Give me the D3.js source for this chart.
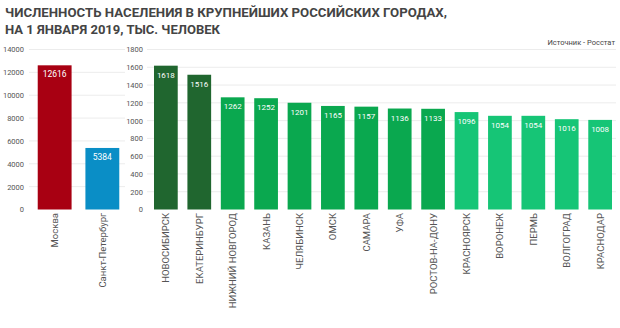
<!DOCTYPE html>
<html><head><meta charset="utf-8">
<script src="https://cdn.jsdelivr.net/npm/d3@7"></script>
<style>body{margin:0;background:#fff;}svg{display:block;font-family:Roboto,"Liberation Sans",sans-serif;}</style>
</head><body>
<script>
const bigCities = ["Москва", "Санкт-Петербург"];
const bigValues = [12616, 5384];
const bigColors = ["#a80012", "#0a8ec6"];
const bigTicks = [0, 2000, 4000, 6000, 8000, 10000, 12000, 14000];

const cities = ["НОВОСИБИРСК", "ЕКАТЕРИНБУРГ", "НИЖНИЙ НОВГОРОД", "КАЗАНЬ", "ЧЕЛЯБИНСК", "ОМСК", "САМАРА", "УФА", "РОСТОВ-НА-ДОНУ", "КРАСНОЯРСК", "ВОРОНЕЖ", "ПЕРМЬ", "ВОЛГОГРАД", "КРАСНОДАР"];
const values = [1618, 1516, 1262, 1252, 1201, 1165, 1157, 1136, 1133, 1096, 1054, 1054, 1016, 1008];
const groups = [0, 0, 1, 1, 1, 1, 1, 1, 1, 2, 2, 2, 2, 2];
const groupColors = ["#20662f", "#0aa84f", "#16c576"];
const ticks = [0, 200, 400, 600, 800, 1000, 1200, 1400, 1600, 1800];

const titleLines = ["ЧИСЛЕННОСТЬ НАСЕЛЕНИЯ В КРУПНЕЙШИХ РОССИЙСКИХ ГОРОДАХ,", "НА 1 ЯНВАРЯ 2019, ТЫС. ЧЕЛОВЕК"];
const source = "Источник - Росстат";

const W = 620, H = 328;
const svg = d3.select("body").append("svg").attr("width", W).attr("height", H);

svg.selectAll("text.title").data(titleLines).join("text")
  .attr("x", 5).attr("y", (d, i) => 17 + i * 16.5)
  .attr("font-size", 13).attr("font-weight", "bold").attr("fill", "#444")
  .attr("textLength", (d, i) => i === 0 ? 442 : 215).attr("lengthAdjust", "spacingAndGlyphs")
  .text(d => d);

svg.append("text").attr("x", 615).attr("y", 45).attr("text-anchor", "end")
  .attr("font-size", 7.5).attr("fill", "#444").text(source);

const y0 = 209.5, yTop = 49.5;

function panel(names, vals, colors, tickVals, maxV, xr, axisX, labelSize) {
  const x = d3.scaleBand().domain(names).range(xr).paddingInner(0.29).paddingOuter(0.12);
  const y = d3.scaleLinear().domain([0, maxV]).range([y0, yTop]);
  const g = svg.append("g");
  g.selectAll("line.grid").data(tickVals.slice(1)).join("line")
    .attr("x1", xr[0] - 3).attr("x2", xr[1]).attr("y1", d => y(d)).attr("y2", d => y(d))
    .attr("stroke", "#ececec").attr("stroke-width", 1);
  const ax = d3.axisLeft(y).tickValues(tickVals).tickSize(0).tickPadding(0).tickFormat(d3.format("d"));
  const axg = g.append("g").attr("transform", `translate(${axisX},0)`).call(ax);
  axg.select(".domain").remove();
  axg.selectAll("text").attr("font-size", 7.5).attr("fill", "#555").attr("font-family", "Roboto, sans-serif");
  g.selectAll("rect").data(vals).join("rect")
    .attr("x", (d, i) => x(names[i])).attr("width", x.bandwidth())
    .attr("y", d => y(d)).attr("height", d => y0 - y(d))
    .attr("fill", (d, i) => colors[i]);
  g.selectAll("text.val").data(vals).join("text").attr("class", "val")
    .attr("x", (d, i) => x(names[i]) + x.bandwidth() / 2).attr("y", d => y(d) + 12)
    .attr("text-anchor", "middle").attr("font-size", labelSize).attr("fill", "#fff")
    .text(d => d);
  g.selectAll("text.cat").data(names).join("text").attr("class", "cat")
    .attr("transform", d => `translate(${x(d) + x.bandwidth() / 2 + 3.5},213) rotate(-90)`)
    .attr("text-anchor", "end").attr("font-size", 9.5).attr("fill", "#555")
    .text(d => d);
}

panel(bigCities, bigValues, bigColors, bigTicks, 14000, [32, 125], 24, 8.5);
panel(cities, values, groups.map(g => groupColors[g]), ticks, 1800, [150, 616], 143, 8);
</script>
</body></html>
